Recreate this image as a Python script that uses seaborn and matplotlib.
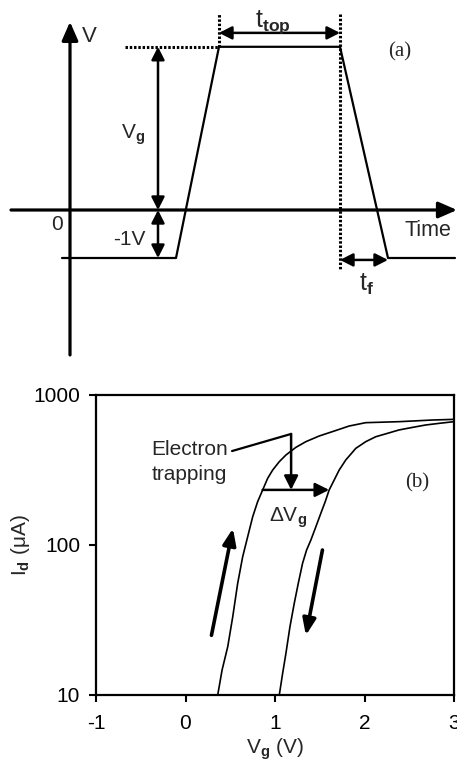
import matplotlib
matplotlib.use("Agg")
import matplotlib.pyplot as plt
import seaborn as sns

# ---------------- data ----------------
# Panel (a): gate voltage pulse (time in arbitrary units, voltage in V)
pulse_t = [-0.8, 10.6, 14.9, 27.0, 31.8, 38.5]
pulse_v = [-1.0, -1.0, 3.4, 3.4, -1.0, -1.0]
t_rise_end = 14.9
t_fall_start = 27.0
t_fall_end = 31.8
v_top = 3.4
v_base = -1.0

# Panel (b): drain current during the up and down gate sweeps
vg_up = [0.360, 0.409, 0.472, 0.528, 0.583, 0.639, 0.695, 0.751, 0.806, 0.862,
         0.918, 0.974, 1.048, 1.122, 1.234, 1.345, 1.494, 1.642, 1.828, 2.014,
         2.386, 2.757, 2.999]
id_up = [10, 14.7, 21.0, 33.3, 55.5, 83.6, 113.7, 154.5, 194.4, 232.6,
         278.3, 316, 359.4, 398, 448, 488.5, 533, 570, 621, 654,
         664, 681, 688]
vg_down = [1.048, 1.085, 1.122, 1.167, 1.215, 1.260, 1.308, 1.353, 1.401, 1.457,
           1.512, 1.561, 1.605, 1.661, 1.717, 1.791, 1.903, 2.014, 2.126, 2.256,
           2.386, 2.535, 2.683, 2.832, 2.999]
id_down = [10, 13.9, 18.95, 28.5, 40.8, 55.5, 75.5, 92.6, 108, 132.5,
           162.6, 194.4, 232.6, 271, 316, 369, 441, 488.5, 527, 555,
           584.8, 608, 631, 647, 664]

# Shift annotation
dvg_level = 233
dvg_from = 0.862
dvg_to = 1.605
trap_x = 1.18
trap_top = 550
trap_text_end = (0.52, 423)

x_ticks = [-1, 0, 1, 2, 3]
y_ticks = [10, 100, 1000]
y_ticklabels = ["10", "100", "1000"]

# ---------------- style ----------------
sns.set_style("ticks")
plt.rcParams["font.family"] = ["Liberation Sans", "DejaVu Sans"]
plt.rcParams["axes.unicode_minus"] = False
plt.rcParams["mathtext.fontset"] = "custom"
plt.rcParams["mathtext.rm"] = "Liberation Sans"
plt.rcParams["mathtext.it"] = "Liberation Sans:italic"
plt.rcParams["mathtext.bf"] = "Liberation Sans:bold"

serif = ["Liberation Serif", "DejaVu Serif"]
fs = 15

fig = plt.figure(figsize=(4.57, 7.64), dpi=100)

# ---------------- panel (a) ----------------
ax_a = fig.add_axes([0, 1 - 360 / 764, 1, 360 / 764])
ax_a.set_xlim(-7.0, 38.7)
ax_a.set_ylim(-3.125, 4.375)
ax_a.set_axis_off()

ax_kw = dict(arrowstyle="-|>,head_length=0.8,head_width=0.35", color="black",
             lw=2.3, shrinkA=0, shrinkB=0, mutation_scale=14)
ax_a.annotate("", xy=(0, 3.92), xytext=(0, -3.02), arrowprops=ax_kw)
ax_a.annotate("", xy=(38.7, 0), xytext=(-5.9, 0), arrowprops=ax_kw)

sns.lineplot(x=pulse_t, y=pulse_v, ax=ax_a, color="black", lw=1.6,
             sort=False, estimator=None)

dot_kw = dict(color="black", lw=2.2, ls=(0, (0.8, 0.6)))
ax_a.plot([5.5, t_rise_end], [v_top, v_top], **dot_kw)
ax_a.plot([t_rise_end, t_rise_end], [v_top, 4.08], **dot_kw)
ax_a.plot([t_fall_start, t_fall_start], [4.08, -1.25], **dot_kw)

dbl = dict(arrowstyle="<|-|>,head_length=0.55,head_width=0.28", color="black",
           lw=1.8, shrinkA=0, shrinkB=0, mutation_scale=14)
ax_a.annotate("", xy=(t_rise_end, 3.69), xytext=(t_fall_start, 3.69), arrowprops=dbl)
ax_a.annotate("", xy=(8.8, v_top), xytext=(8.8, 0), arrowprops=dbl)
ax_a.annotate("", xy=(8.8, 0), xytext=(8.8, v_base), arrowprops=dbl)
ax_a.annotate("", xy=(t_fall_start, -1.04), xytext=(t_fall_end, -1.04), arrowprops=dbl)

ax_a.text(1.2, 3.62, "V", fontsize=fs + 1, ha="left", va="center")
ax_a.text(20.3, 3.92, r"$\mathrm{t}_{\mathbf{top}}$", fontsize=18, ha="center", va="center")
ax_a.text(6.3, 1.56, r"$\mathrm{V}_{\mathbf{g}}$", fontsize=fs, ha="center", va="center")
ax_a.text(5.9, -0.62, "-1V", fontsize=fs, ha="center", va="center")
ax_a.text(-1.3, -0.31, "0", fontsize=fs, ha="center", va="center")
ax_a.text(35.8, -0.42, "Time", fontsize=fs + 0.5, ha="center", va="center")
ax_a.text(29.7, -1.56, r"$\mathrm{t}_{\mathbf{f}}$", fontsize=18, ha="center", va="center")
ax_a.text(33.0, 3.29, "(a)", fontsize=fs, ha="center", va="center", family=serif)

# ---------------- panel (b) ----------------
ax_b = fig.add_axes([96 / 457, 69 / 764, (454 - 96) / 457, 300 / 764])
sns.lineplot(x=vg_up, y=id_up, ax=ax_b, color="black", lw=1.2,
             sort=False, estimator=None)
sns.lineplot(x=vg_down, y=id_down, ax=ax_b, color="black", lw=1.2,
             sort=False, estimator=None)
ax_b.set_yscale("log")
ax_b.set_xlim(-1, 3)
ax_b.set_ylim(10, 1000)
ax_b.set_xticks(x_ticks)
ax_b.set_yticks(y_ticks)
ax_b.set_yticklabels(y_ticklabels)
ax_b.minorticks_off()
for s in ax_b.spines.values():
    s.set_linewidth(1.6)
    s.set_color("black")
ax_b.tick_params(direction="out", length=5, width=1.5, labelsize=fs,
                 colors="black")
ax_b.tick_params(axis="x", pad=9)
ax_b.tick_params(axis="y", pad=6.5)
ax_b.set_xlabel(r"$\mathrm{V}_{\mathbf{g}}$ (V)", fontsize=fs, labelpad=2)
ax_b.set_ylabel(r"$\mathrm{I}_{\mathbf{d}}$ (μA)", fontsize=fs, labelpad=1)

# electron trapping annotation
ax_b.text(-0.379, 357, "Electron\ntrapping", fontsize=fs, ha="left", va="center",
          linespacing=1.35)
ax_b.plot([trap_text_end[0], trap_x], [trap_text_end[1], trap_top], color="black", lw=1.6)
ax_b.annotate("", xy=(trap_x, dvg_level), xytext=(trap_x, trap_top),
              arrowprops=dict(arrowstyle="-|>,head_length=0.6,head_width=0.3",
                              color="black", lw=1.8, shrinkA=0, shrinkB=0,
                              mutation_scale=14))
ax_b.annotate("", xy=(dvg_to, dvg_level), xytext=(dvg_from, dvg_level),
              arrowprops=dict(arrowstyle="-|>,head_length=0.6,head_width=0.3",
                              color="black", lw=1.8, shrinkA=0, shrinkB=0,
                              mutation_scale=14))
ax_b.text(1.14, 151, r"$\Delta\mathrm{V}_{\mathbf{g}}$", fontsize=fs,
          ha="center", va="center")

# sweep direction arrows
sweep_kw = dict(arrowstyle="-|>,head_length=0.7,head_width=0.28", color="black",
                lw=2.6, shrinkA=0, shrinkB=0, mutation_scale=14)
ax_b.annotate("", xy=(0.53, 129), xytext=(0.29, 25), arrowprops=sweep_kw)
ax_b.annotate("", xy=(1.345, 25), xytext=(1.53, 92.6), arrowprops=sweep_kw)

ax_b.text(2.585, 259, "(b)", fontsize=fs, ha="center", va="center", family=serif)

fig.savefig("out.png", dpi=100)
